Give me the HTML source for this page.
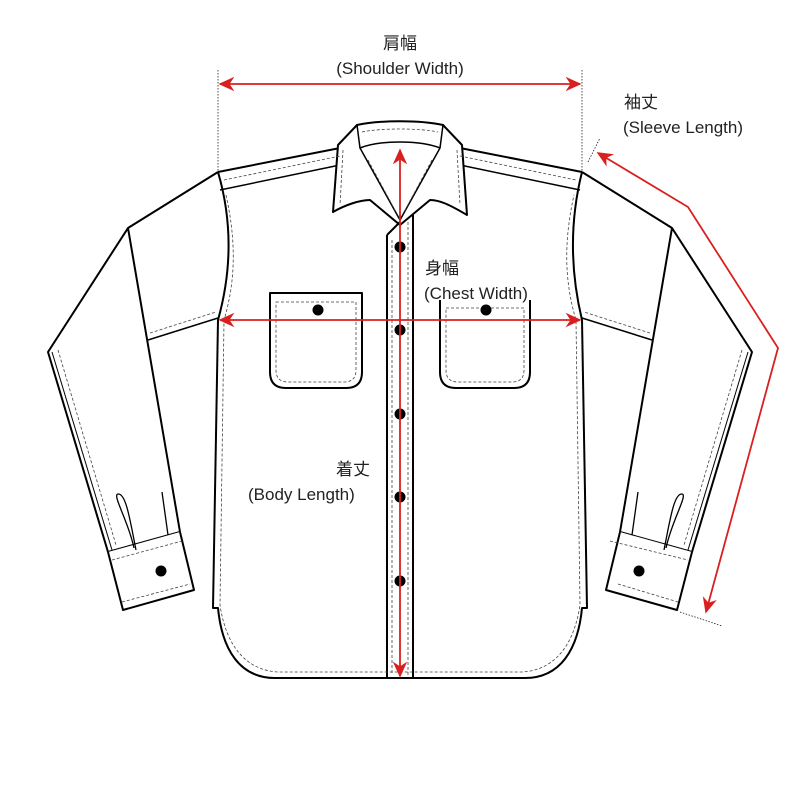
<!DOCTYPE html>
<html><head><meta charset="utf-8"><style>
html,body{margin:0;padding:0;background:#fff}
svg{display:block}
text{font-family:"Liberation Sans","Noto Sans CJK JP",sans-serif;font-size:17px;fill:#222}
</style></head><body>
<svg width="800" height="800" viewBox="0 0 800 800" xmlns="http://www.w3.org/2000/svg">
<defs>
<marker id="ah" viewBox="0 0 10 10" refX="9" refY="5" markerWidth="16" markerHeight="16" markerUnits="userSpaceOnUse" orient="auto-start-reverse"><path d="M0,0.5 L10,5 L0,9.5 L3,5 z" fill="#d9201f"/></marker>
</defs>
<g fill="none" stroke="#000" stroke-width="2" stroke-linejoin="round">
<path d="M218,172 C232,220 232,270 218,320 L213,608 L218,608 C222,650 240,678 275,678 L525,678 C560,678 578,650 582,608 L587,608 L582,320 C570,270 570,220 582,172" fill="#fff"/>
<path d="M218,172 L340,148 M460,148 L582,172"/>
<path d="M220,190 L340,165 M460,165 L580,190" stroke-width="1.5"/>
<path d="M218,172 L128,228 L48,352 L108,552 L180,532 L128,228"/>
<path d="M52,352 L112,550" stroke-width="1"/>
<path d="M148,340 L218,318" stroke-width="1.5"/>
<path d="M108,552 L123,610 L194,590 L180,532" fill="#fff"/>
<path d="M134,548 C128,520 112,495 118,494 C126,493 130,520 136,550" stroke-width="1.3"/>
<path d="M162,492 L168,535" stroke-width="1.3"/>
<path d="M582,172 L672,228 L752,352 L692,552 L620,532 L672,228"/>
<path d="M748,352 L688,550" stroke-width="1"/>
<path d="M652,340 L582,318" stroke-width="1.5"/>
<path d="M692,552 L677,610 L606,590 L620,532" fill="#fff"/>
<path d="M666,548 C672,520 688,495 682,494 C674,493 670,520 664,550" stroke-width="1.3"/>
<path d="M638,492 L632,535" stroke-width="1.3"/>
<path d="M357,125 C380,120 420,120 443,125 L462,145 L467,215 C450,205 440,200 430,200 L400,225 L370,200 C360,200 345,205 333,212 L338,145 Z" fill="#fff"/>
<path d="M357,125 L360,148 C380,140 420,140 440,148 L443,125" stroke-width="1.5"/>
<path d="M360,148 L400,220 L440,148" stroke-width="1.5"/>
<path d="M387,235 L387,678 M413,215 L413,678 M387,235 L400,222" stroke-width="2"/>
<path d="M270,293 L362,293 L362,372 Q362,388 346,388 L286,388 Q270,388 270,372 Z"/>
<path d="M440,300 L440,372 Q440,388 456,388 L514,388 Q530,388 530,372 L530,300"/>
</g>
<g fill="none" stroke="#444" stroke-width="0.8" stroke-dasharray="3,2">
<path d="M224,180 L340,156 M460,156 L576,180"/>
<path d="M226,195 C236,240 236,280 224,320 L220,605 C226,645 245,670 278,672 L522,672 C555,670 574,645 580,605 L576,320 C564,280 564,240 574,195"/>
<path d="M392,240 L392,675 M408,222 L408,675"/>
<path d="M276,302 L356,302 L356,370 Q356,382 344,382 L288,382 Q276,382 276,370 Z"/>
<path d="M446,308 L524,308 L524,370 Q524,382 512,382 L458,382 Q446,382 446,370 Z"/>
<path d="M112,560 L182,541 M122,602 L190,584 M610,541 L688,560 M618,584 L678,602"/>
<path d="M58,350 L116,545 M742,350 L684,545"/>
<path d="M150,333 L216,312 M650,333 L584,312"/>
<path d="M362,132 C380,128 420,128 438,132 M343,150 L340,205 M457,150 L460,205"/>
<path d="M368,160 L396,212 M432,160 L404,212"/>
</g>
<g fill="#000">
<circle cx="400" cy="247" r="5.5"/><circle cx="400" cy="330" r="5.5"/><circle cx="400" cy="414" r="5.5"/><circle cx="400" cy="497" r="5.5"/><circle cx="400" cy="581" r="5.5"/>
<circle cx="318" cy="310" r="5.5"/><circle cx="486" cy="310" r="5.5"/>
<circle cx="161" cy="571" r="5.5"/><circle cx="639" cy="571" r="5.5"/>
</g>
<g stroke="#000" stroke-width="0.7" stroke-dasharray="1.5,1.5" fill="none">
<path d="M218,70 L218,172 M582,70 L582,172 M588,162 L600,138 M680,612 L722,626"/>
</g>
<g stroke="#d9201f" stroke-width="1.8" fill="none">
<path d="M220,84 L580,84" marker-start="url(#ah)" marker-end="url(#ah)"/>
<path d="M220,320 L580,320" marker-start="url(#ah)" marker-end="url(#ah)"/>
<path d="M400,150 L400,676" marker-start="url(#ah)" marker-end="url(#ah)"/>
<path d="M598,153 L688,207 L778,348 L706,612" marker-start="url(#ah)" marker-end="url(#ah)"/>
</g>
<text x="400" y="49" text-anchor="middle">肩幅</text>
<text x="400" y="74" text-anchor="middle">(Shoulder Width)</text>
<text x="624" y="108">袖丈</text>
<text x="623" y="133">(Sleeve Length)</text>
<text x="425" y="274">身幅</text>
<text x="424" y="299">(Chest Width)</text>
<text x="336" y="475">着丈</text>
<text x="248" y="500">(Body Length)</text>
</svg>
</body></html>
